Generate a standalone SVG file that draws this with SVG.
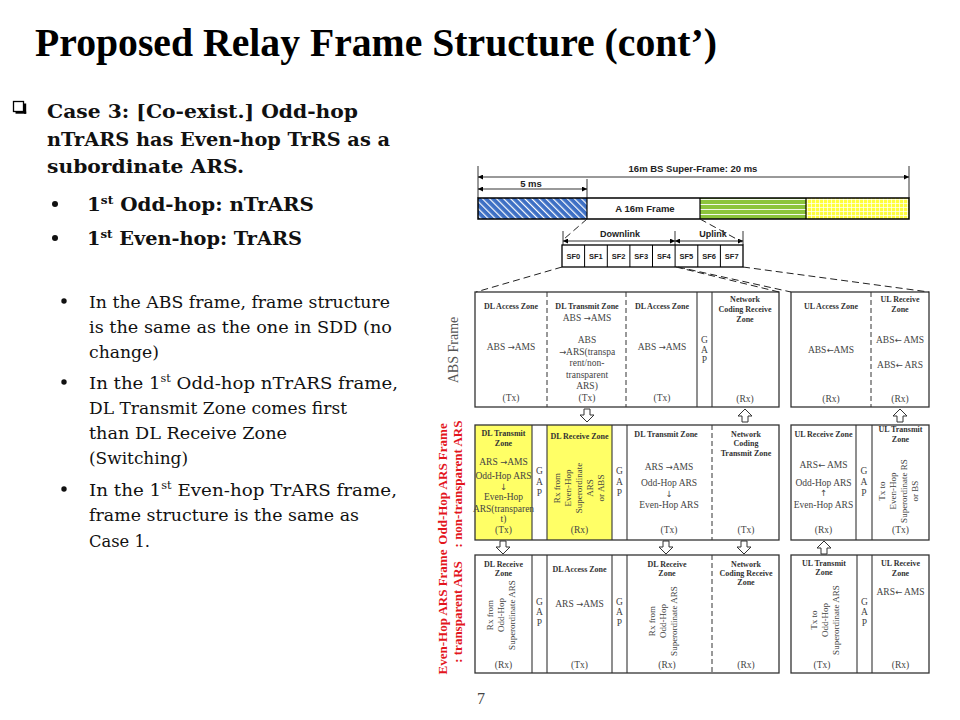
<svg xmlns="http://www.w3.org/2000/svg" width="960" height="720" viewBox="0 0 960 720">
<style>
.ttl{font-family:"Liberation Serif",serif;font-weight:bold;font-size:39px;fill:#000}
.b{font-family:"DejaVu Serif",serif;font-weight:bold;font-size:18px;fill:#111}
.r{font-family:"DejaVu Serif",serif;font-size:17px;fill:#111}
.zt{font-family:"Liberation Serif",serif;font-weight:bold;font-size:8px;fill:#333;text-anchor:middle}
.tx{font-family:"Liberation Serif",serif;font-size:9.5px;fill:#444;text-anchor:middle}
.rt{font-family:"Liberation Serif",serif;font-size:9px;fill:#444;text-anchor:middle}
.aw{font-family:"DejaVu Sans",sans-serif;font-size:8.5px}
.ar{font-family:"Liberation Sans",Arial,sans-serif;font-weight:bold;fill:#222;text-anchor:middle}
.lab{font-family:"Liberation Serif",serif;font-weight:bold;font-size:13px;fill:#e3161d;text-anchor:middle}
.box{fill:none;stroke:#333;stroke-width:1.3}
.sl{stroke:#333;stroke-width:1.1}
.dl{stroke:#333;stroke-width:1;stroke-dasharray:5 3}
.proj{stroke:#222;stroke-width:1;stroke-dasharray:7 4;fill:none}
.dim{stroke:#000;stroke-width:0.8;marker-start:url(#ah);marker-end:url(#ah)}
.tick{stroke:#000;stroke-width:0.8}
.blk{fill:#fff;stroke:#333;stroke-width:1}
</style>
<defs>
<marker id="ah" viewBox="0 0 10 10" refX="10" refY="5" markerUnits="userSpaceOnUse" markerWidth="6" markerHeight="5" orient="auto-start-reverse"><path d="M0,0 L10,5 L0,10 Z" fill="#000"/></marker>
<pattern id="hatch" width="5" height="5" patternUnits="userSpaceOnUse" patternTransform="rotate(-45)"><rect width="5" height="5" fill="#3d6fc4"/><rect width="1.2" height="5" fill="#fff"/></pattern>
<pattern id="hstr" width="6" height="5" patternUnits="userSpaceOnUse"><rect width="6" height="5" fill="#8cc43c"/><rect y="4" width="6" height="0.9" fill="#fff"/></pattern>
<pattern id="grid" width="4" height="4" patternUnits="userSpaceOnUse"><rect width="4" height="4" fill="#ffff3c"/><rect x="3.3" width="0.7" height="4" fill="#fff"/><rect y="3.3" width="4" height="0.7" fill="#fff"/></pattern>
<path id="dn" class="blk" d="M-3,0H3V6H7L0,13L-7,6H-3Z"/>
<path id="up" class="blk" d="M-3,13H3V7H7L0,0L-7,7H-3Z"/>
</defs>
<rect width="960" height="720" fill="#fff"/>

<g id="title">
<text class="ttl" x="35" y="56" textLength="682" lengthAdjust="spacingAndGlyphs">Proposed Relay Frame Structure (cont’)</text>
</g>

<g id="left-text">
<rect x="13.5" y="101.5" width="10" height="10" fill="#fff" stroke="#000" stroke-width="1.3"/>
<rect x="24" y="103.5" width="2.2" height="10.2" fill="#000"/>
<rect x="15.5" y="111.5" width="10.7" height="2.2" fill="#000"/>
<text class="b" x="47" y="118" textLength="311" lengthAdjust="spacingAndGlyphs">Case 3: [Co-exist.] Odd-hop</text>
<text class="b" x="47" y="146" textLength="343" lengthAdjust="spacingAndGlyphs">nTrARS has Even-hop TrRS as a</text>
<text class="b" x="47" y="173" textLength="197" lengthAdjust="spacingAndGlyphs">subordinate ARS.</text>
<circle cx="55" cy="204" r="3" fill="#111"/>
<circle cx="55" cy="238" r="3" fill="#111"/>
<text class="b" x="87" y="211" textLength="227" lengthAdjust="spacingAndGlyphs">1<tspan font-size="11" dy="-7">st</tspan><tspan dy="7"> Odd-hop: nTrARS</tspan></text>
<text class="b" x="87" y="245" textLength="215" lengthAdjust="spacingAndGlyphs">1<tspan font-size="11" dy="-7">st</tspan><tspan dy="7"> Even-hop: TrARS</tspan></text>
<circle cx="64" cy="301" r="2.7" fill="#111"/>
<circle cx="64" cy="382" r="2.7" fill="#111"/>
<circle cx="64" cy="489" r="2.7" fill="#111"/>
<text class="r" x="89" y="308" textLength="301" lengthAdjust="spacingAndGlyphs">In the ABS frame, frame structure</text>
<text class="r" x="89" y="333" textLength="303" lengthAdjust="spacingAndGlyphs">is the same as the one in SDD (no</text>
<text class="r" x="89" y="358" textLength="70" lengthAdjust="spacingAndGlyphs">change)</text>
<text class="r" x="89" y="389" textLength="309" lengthAdjust="spacingAndGlyphs">In the 1<tspan font-size="10.5" dy="-7">st</tspan><tspan dy="7"> Odd-hop nTrARS frame,</tspan></text>
<text class="r" x="89" y="414" textLength="258" lengthAdjust="spacingAndGlyphs">DL Transmit Zone comes first</text>
<text class="r" x="89" y="439" textLength="198" lengthAdjust="spacingAndGlyphs">than DL Receive Zone</text>
<text class="r" x="89" y="464" textLength="99" lengthAdjust="spacingAndGlyphs">(Switching)</text>
<text class="r" x="89" y="496" textLength="308" lengthAdjust="spacingAndGlyphs">In the 1<tspan font-size="10.5" dy="-7">st</tspan><tspan dy="7"> Even-hop TrARS frame,</tspan></text>
<text class="r" x="89" y="521" textLength="270" lengthAdjust="spacingAndGlyphs">frame structure is the same as</text>
<text class="r" x="89" y="547" textLength="61" lengthAdjust="spacingAndGlyphs">Case 1.</text>
</g>

<g id="superframe">
<line class="tick" x1="478" y1="166" x2="478" y2="198"/>
<line class="tick" x1="909" y1="166" x2="909" y2="198"/>
<line class="tick" x1="587" y1="179" x2="587" y2="198"/>
<text class="ar" x="693" y="172" font-size="9.5">16m BS Super-Frame: 20 ms</text>
<text class="ar" x="531" y="187" font-size="9.5">5 ms</text>
<line class="dim" x1="478" y1="177" x2="909" y2="177"/>
<line class="dim" x1="478" y1="189" x2="587" y2="189"/>
<rect x="478" y="198" width="109" height="21" fill="url(#hatch)"/>
<rect x="587" y="198" width="113" height="21" fill="#fff"/>
<rect x="700" y="198" width="106" height="21" fill="url(#hstr)"/>
<rect x="806" y="198" width="103" height="21" fill="url(#grid)"/>
<rect x="478" y="198" width="431" height="21" fill="none" stroke="#000" stroke-width="1.5"/>
<line x1="587" y1="198" x2="587" y2="219" stroke="#000" stroke-width="1.2"/>
<line x1="700" y1="198" x2="700" y2="219" stroke="#000" stroke-width="1.2"/>
<line x1="806" y1="198" x2="806" y2="219" stroke="#000" stroke-width="1.2"/>
<text class="ar" x="645" y="212" font-size="9.5" font-weight="normal">A 16m Frame</text>
</g>

<g id="subframes">
<line class="tick" x1="563" y1="231" x2="563" y2="245"/>
<line class="tick" x1="675" y1="231" x2="675" y2="245"/>
<line class="tick" x1="743" y1="231" x2="743" y2="245"/>
<text class="ar" x="620" y="237" font-size="9">Downlink</text>
<text class="ar" x="713" y="237" font-size="9">Uplink</text>
<line class="dim" x1="563" y1="241" x2="675" y2="241"/>
<line class="dim" x1="675" y1="241" x2="743" y2="241"/>
<rect x="562" y="245" width="181" height="22" fill="#fff" stroke="#000" stroke-width="1.3"/>
<g stroke="#000" stroke-width="1">
<line x1="584.6" y1="245" x2="584.6" y2="267"/>
<line x1="607.3" y1="245" x2="607.3" y2="267"/>
<line x1="629.9" y1="245" x2="629.9" y2="267"/>
<line x1="652.5" y1="245" x2="652.5" y2="267"/>
<line x1="675.1" y1="245" x2="675.1" y2="267"/>
<line x1="697.8" y1="245" x2="697.8" y2="267"/>
<line x1="720.4" y1="245" x2="720.4" y2="267"/>
</g>
<g font-size="7.5">
<text class="ar" x="573.3" y="259">SF0</text>
<text class="ar" x="595.9" y="259">SF1</text>
<text class="ar" x="618.6" y="259">SF2</text>
<text class="ar" x="641.2" y="259">SF3</text>
<text class="ar" x="663.8" y="259">SF4</text>
<text class="ar" x="686.4" y="259">SF5</text>
<text class="ar" x="709.1" y="259">SF6</text>
<text class="ar" x="731.7" y="259">SF7</text>
</g>
</g>

<g id="abs-frame">
<rect class="box" x="475" y="292" width="304" height="115"/>
<rect class="box" x="791" y="292" width="138" height="115"/>
<line class="dl" x1="547" y1="292" x2="547" y2="407"/>
<line class="dl" x1="626" y1="292" x2="626" y2="407"/>
<line class="sl" x1="697" y1="292" x2="697" y2="407"/>
<line class="sl" x1="712" y1="292" x2="712" y2="407"/>
<line class="dl" x1="871" y1="292" x2="871" y2="407"/>
<text class="zt" x="511" y="309">DL Access Zone</text>
<text class="zt" x="587" y="309">DL Transmit Zone</text>
<text class="zt" x="662" y="309">DL Access Zone</text>
<text class="zt" x="745" y="302">Network</text>
<text class="zt" x="745" y="312">Coding Receive</text>
<text class="zt" x="745" y="322">Zone</text>
<text class="zt" x="831" y="309">UL Access Zone</text>
<text class="zt" x="900" y="302">UL Receive</text>
<text class="zt" x="900" y="312">Zone</text>
<text class="tx" x="511" y="350">ABS <tspan class="aw">→</tspan>AMS</text>
<text class="tx" x="587" y="321">ABS <tspan class="aw">→</tspan>AMS</text>
<text class="tx" x="587" y="343">ABS</text>
<text class="tx" x="587" y="355"><tspan class="aw">→</tspan>ARS(transpa</text>
<text class="tx" x="587" y="366">rent/non-</text>
<text class="tx" x="587" y="378">transparent</text>
<text class="tx" x="587" y="389">ARS)</text>
<text class="tx" x="662" y="350">ABS <tspan class="aw">→</tspan>AMS</text>
<text class="tx" x="704.5" y="343">G</text>
<text class="tx" x="704.5" y="353">A</text>
<text class="tx" x="704.5" y="363">P</text>
<text class="tx" x="831" y="353">ABS<tspan class="aw">←</tspan>AMS</text>
<text class="tx" x="900" y="343">ABS<tspan class="aw">←</tspan> AMS</text>
<text class="tx" x="900" y="368">ABS<tspan class="aw">←</tspan> ARS</text>
<text class="tx" x="511" y="401">(Tx)</text>
<text class="tx" x="587" y="401">(Tx)</text>
<text class="tx" x="662" y="401">(Tx)</text>
<text class="tx" x="745" y="402">(Rx)</text>
<text class="tx" x="831" y="402">(Rx)</text>
<text class="tx" x="900" y="402">(Rx)</text>
<text transform="translate(458,350) rotate(-90)" font-family="Liberation Serif,serif" font-size="14" fill="#555" text-anchor="middle">ABS Frame</text>
</g>

<g id="odd-frame">
<rect x="475" y="425" width="57" height="115" fill="#ffff66"/>
<rect x="547" y="425" width="65" height="115" fill="#ffff66"/>
<rect class="box" x="475" y="425" width="304" height="115" stroke="#111" stroke-width="1.5"/>
<rect class="box" x="791" y="425" width="138" height="115" stroke="#111" stroke-width="1.5"/>
<line class="sl" x1="532" y1="425" x2="532" y2="540"/>
<line class="sl" x1="547" y1="425" x2="547" y2="540"/>
<line class="sl" x1="612" y1="425" x2="612" y2="540"/>
<line class="sl" x1="627" y1="425" x2="627" y2="540"/>
<line class="dl" x1="712" y1="425" x2="712" y2="540"/>
<line class="sl" x1="856" y1="425" x2="856" y2="540"/>
<line class="sl" x1="872" y1="425" x2="872" y2="540"/>
<text class="zt" x="503.5" y="436">DL Transmit</text>
<text class="zt" x="503.5" y="446">Zone</text>
<text class="tx" x="503.5" y="465">ARS <tspan class="aw">→</tspan>AMS</text>
<text class="tx" x="503.5" y="479">Odd-Hop ARS</text>
<text class="tx" x="503.5" y="490"><tspan class="aw">↓</tspan></text>
<text class="tx" x="503.5" y="500">Even-Hop</text>
<text class="tx" x="503.5" y="512">ARS(transparen</text>
<text class="tx" x="503.5" y="522">t)</text>
<text class="tx" x="503.5" y="533">(Tx)</text>
<text class="tx" x="539.5" y="474">G</text>
<text class="tx" x="539.5" y="485">A</text>
<text class="tx" x="539.5" y="496">P</text>
<text class="zt" x="579.5" y="439">DL Receive Zone</text>
<text class="rt" transform="translate(560,488) rotate(-90)"><tspan x="0" y="0">Rx from</tspan><tspan x="0" dy="11">Even-Hop</tspan><tspan x="0" dy="11">Superordinate</tspan><tspan x="0" dy="11">ARS</tspan><tspan x="0" dy="11">or ABS</tspan></text>
<text class="tx" x="579.5" y="533">(Rx)</text>
<text class="tx" x="619.5" y="474">G</text>
<text class="tx" x="619.5" y="485">A</text>
<text class="tx" x="619.5" y="496">P</text>
<text class="zt" x="666" y="437">DL Transmit Zone</text>
<text class="tx" x="669" y="470">ARS <tspan class="aw">→</tspan>AMS</text>
<text class="tx" x="669" y="486">Odd-Hop ARS</text>
<text class="tx" x="669" y="497"><tspan class="aw">↓</tspan></text>
<text class="tx" x="669" y="508">Even-Hop ARS</text>
<text class="tx" x="669" y="533">(Tx)</text>
<text class="zt" x="746" y="437">Network</text>
<text class="zt" x="746" y="446">Coding</text>
<text class="zt" x="746" y="456">Transmit Zone</text>
<text class="tx" x="746" y="533">(Tx)</text>
<text class="zt" x="823.5" y="437">UL Receive Zone</text>
<text class="tx" x="823.5" y="468">ARS<tspan class="aw">←</tspan> AMS</text>
<text class="tx" x="823.5" y="486">Odd-Hop ARS</text>
<text class="tx" x="823.5" y="496"><tspan class="aw">↑</tspan></text>
<text class="tx" x="823.5" y="508">Even-Hop ARS</text>
<text class="tx" x="823.5" y="533">(Rx)</text>
<text class="tx" x="864" y="474">G</text>
<text class="tx" x="864" y="485">A</text>
<text class="tx" x="864" y="496">P</text>
<text class="zt" x="900.5" y="432">UL Transmit</text>
<text class="zt" x="900.5" y="442">Zone</text>
<text class="rt" transform="translate(885,491) rotate(-90)"><tspan x="0" y="0">Tx to</tspan><tspan x="0" dy="11">Even-Hop</tspan><tspan x="0" dy="11">Superordinate RS</tspan><tspan x="0" dy="11">or BS</tspan></text>
<text class="tx" x="900.5" y="533">(Tx)</text>
<text class="lab" transform="translate(447,484) rotate(-90)"><tspan x="0" y="0">Odd-Hop ARS Frame</tspan><tspan x="0" dy="15">: non-transparent ARS</tspan></text>
</g>

<g id="even-frame">
<rect class="box" x="475" y="555" width="304" height="118" stroke="#555"/>
<rect class="box" x="791" y="555" width="138" height="118" stroke="#555"/>
<line class="sl" x1="532" y1="555" x2="532" y2="673" stroke="#777"/>
<line class="sl" x1="547" y1="555" x2="547" y2="673"/>
<line class="sl" x1="612" y1="555" x2="612" y2="673" stroke="#777"/>
<line class="sl" x1="627" y1="555" x2="627" y2="673"/>
<line class="dl" x1="712" y1="555" x2="712" y2="673"/>
<line class="sl" x1="857" y1="555" x2="857" y2="673"/>
<line class="sl" x1="872" y1="555" x2="872" y2="673"/>
<text class="zt" x="503.5" y="567">DL Receive</text>
<text class="zt" x="503.5" y="576">Zone</text>
<text class="rt" transform="translate(493,615) rotate(-90)"><tspan x="0" y="0">Rx from</tspan><tspan x="0" dy="11">Odd-Hop</tspan><tspan x="0" dy="11">Superordinate ARS</tspan></text>
<text class="tx" x="503.5" y="668">(Rx)</text>
<text class="tx" x="539.5" y="605">G</text>
<text class="tx" x="539.5" y="615">A</text>
<text class="tx" x="539.5" y="626">P</text>
<text class="zt" x="579.5" y="572">DL Access Zone</text>
<text class="tx" x="579.5" y="607">ARS <tspan class="aw">→</tspan>AMS</text>
<text class="tx" x="579.5" y="668">(Tx)</text>
<text class="tx" x="619.5" y="605">G</text>
<text class="tx" x="619.5" y="615">A</text>
<text class="tx" x="619.5" y="626">P</text>
<text class="zt" x="667" y="567">DL Receive</text>
<text class="zt" x="667" y="576">Zone</text>
<text class="rt" transform="translate(655,621) rotate(-90)"><tspan x="0" y="0">Rx from</tspan><tspan x="0" dy="11">Odd-Hop</tspan><tspan x="0" dy="11">Superordinate ARS</tspan></text>
<text class="tx" x="667" y="668">(Rx)</text>
<text class="zt" x="746" y="567">Network</text>
<text class="zt" x="746" y="576">Coding Receive</text>
<text class="zt" x="746" y="585">Zone</text>
<text class="tx" x="746" y="668">(Rx)</text>
<text class="zt" x="824" y="566">UL Transmit</text>
<text class="zt" x="824" y="575">Zone</text>
<text class="rt" transform="translate(817,620) rotate(-90)"><tspan x="0" y="0">Tx to</tspan><tspan x="0" dy="11">Odd-Hop</tspan><tspan x="0" dy="11">Superordinate ARS</tspan></text>
<text class="tx" x="822" y="668">(Tx)</text>
<text class="tx" x="864.5" y="605">G</text>
<text class="tx" x="864.5" y="615">A</text>
<text class="tx" x="864.5" y="626">P</text>
<text class="zt" x="900.5" y="566">UL Receive</text>
<text class="zt" x="900.5" y="576">Zone</text>
<text class="tx" x="900.5" y="595">ARS<tspan class="aw">←</tspan> AMS</text>
<text class="tx" x="900.5" y="668">(Rx)</text>
<text class="lab" transform="translate(447,612) rotate(-90)"><tspan x="0" y="0">Even-Hop ARS Frame</tspan><tspan x="0" dy="15">: transparent ARS</tspan></text>
</g>

<g id="connectors">
<line class="proj" x1="587" y1="219" x2="564" y2="239"/>
<line class="proj" x1="700" y1="219" x2="742" y2="242"/>
<line class="proj" x1="562" y1="267" x2="476" y2="292"/>
<line class="proj" x1="676" y1="267" x2="779" y2="292"/>
<line class="proj" x1="678" y1="267" x2="791" y2="292"/>
<line class="proj" x1="743" y1="267" x2="929" y2="292"/>
<use href="#dn" x="587" y="409"/>
<use href="#up" x="745" y="409"/>
<use href="#up" x="900" y="409"/>
<use href="#dn" x="503" y="541"/>
<use href="#dn" x="666" y="541"/>
<use href="#dn" x="744" y="541"/>
<use href="#up" x="824" y="541"/>
</g>

<text x="477" y="704" font-family="Liberation Serif,serif" font-size="16" fill="#444">7</text>
</svg>
